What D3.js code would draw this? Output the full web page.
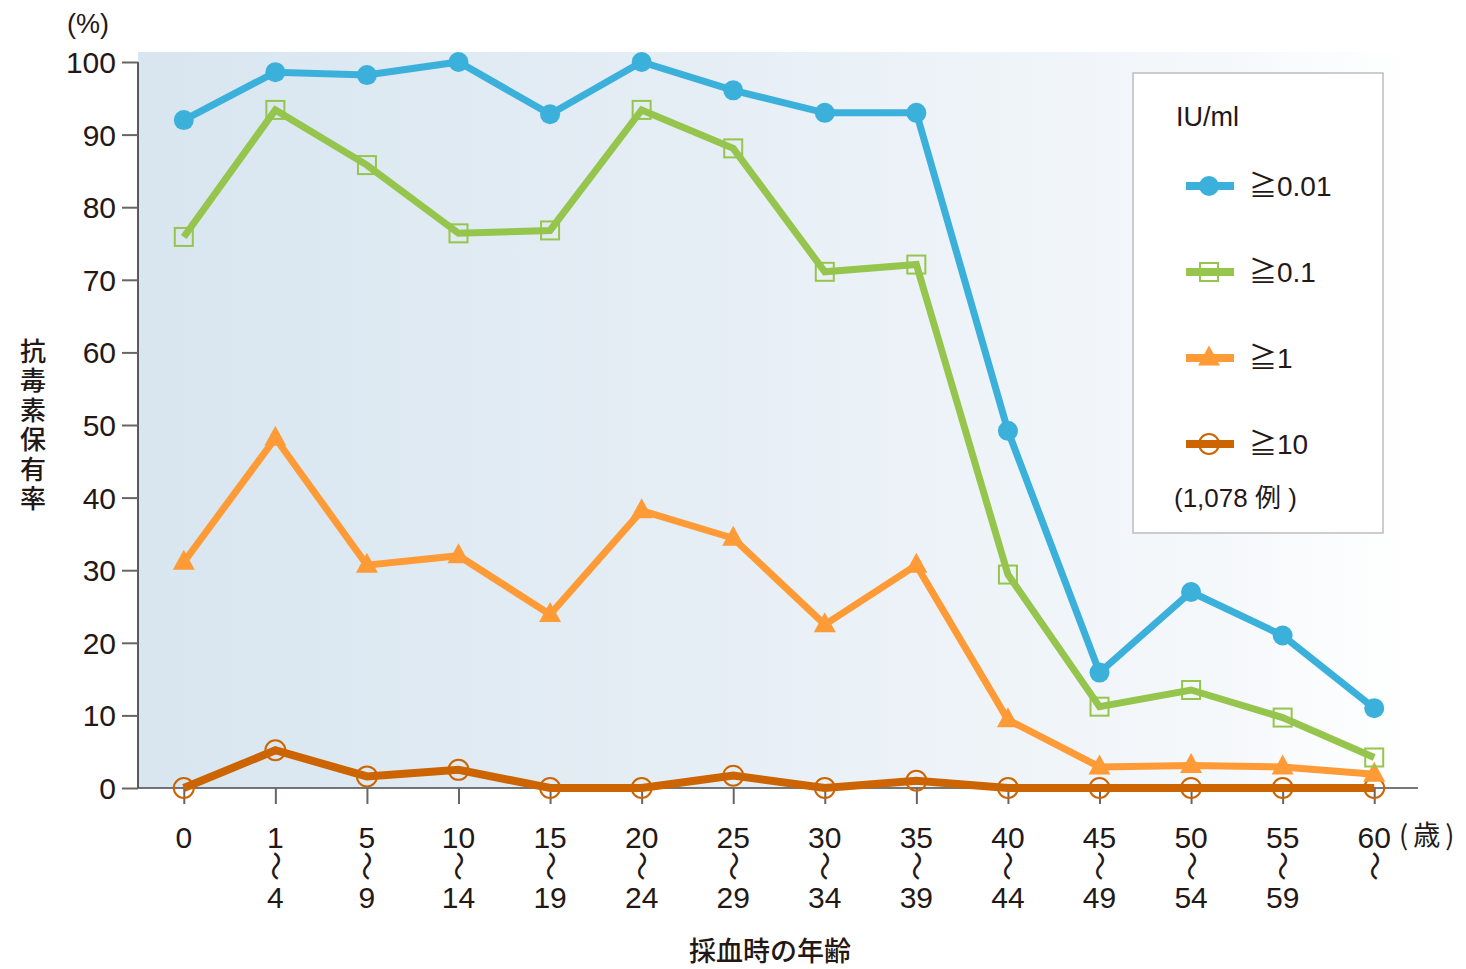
<!DOCTYPE html>
<html>
<head>
<meta charset="utf-8">
<script src="https://cdn.jsdelivr.net/npm/d3@7"></script>
<style>
  html, body { margin: 0; padding: 0; background: #fff; }
  svg text { font-family: "Liberation Sans", Arial, "Noto Sans CJK JP", sans-serif; fill: #231815; }
  .jp { font-family: "Noto Sans CJK JP", sans-serif; }
</style>
</head>
<body>
<svg id="chart" width="1466" height="969"></svg>
<script>
// Age groups at blood sampling (upper / lower bound of each band)
const ageFrom = ["0", "1", "5", "10", "15", "20", "25", "30", "35", "40", "45", "50", "55", "60"];
const ageTo   = ["",  "4", "9", "14", "19", "24", "29", "34", "39", "44", "49", "54", "59", ""];
const hasRange = [false, true, true, true, true, true, true, true, true, true, true, true, true, true];

// Antitoxin seroprevalence (%) by threshold, IU/ml
const ge001 = [92.0, 98.6, 98.2, 100, 92.8, 100, 96.1, 93.0, 93.0, 49.2, 15.9, 27.0, 21.0, 11.0];
const ge01  = [75.9, 93.4, 85.8, 76.4, 76.8, 93.4, 88.1, 71.1, 72.1, 29.4, 11.2, 13.5, 9.7, 4.2];
const ge1   = [31.1, 48.2, 30.7, 32.0, 23.9, 38.2, 34.4, 22.5, 30.7, 9.4, 2.9, 3.1, 2.9, 1.9];
const ge10  = [0, 5.2, 1.6, 2.5, 0, 0, 1.7, 0, 1.0, 0, 0, 0, 0, 0];

const seriesNames  = ["≧0.01", "≧0.1", "≧1", "≧10"];
const seriesColors = ["#3bb0db", "#95c54d", "#fe9b37", "#cc6501"];
const yTicks = [0, 10, 20, 30, 40, 50, 60, 70, 80, 90, 100];

const svg = d3.select("#chart");
const plotLeft = 138, plotRight = 1418, plotTop = 52, plotBottom = 788;

const x = d3.scalePoint().domain(d3.range(ageFrom.length)).range([plotLeft, 1420]).padding(0.5);
const y = d3.scaleLinear().domain([0, 100]).range([plotBottom, 62]);

// plot background: soft blue fading to white towards the right
const defs = svg.append("defs");
const grad = defs.append("linearGradient").attr("id", "bg").attr("x1", "0").attr("x2", "1").attr("y1", "0").attr("y2", "0");
grad.append("stop").attr("offset", "0").attr("stop-color", "#d8e6f0");
grad.append("stop").attr("offset", "0.45").attr("stop-color", "#e6eef5");
grad.append("stop").attr("offset", "0.85").attr("stop-color", "#f5f8fb");
grad.append("stop").attr("offset", "1").attr("stop-color", "#ffffff");
svg.append("rect").attr("x", plotLeft).attr("y", plotTop).attr("width", 1410 - plotLeft).attr("height", plotBottom - plotTop).attr("fill", "url(#bg)");

// y axis
const yAxis = svg.append("g").attr("transform", `translate(${plotLeft},0)`)
  .call(d3.axisLeft(y).tickValues(yTicks).tickSize(16).tickPadding(6));
yAxis.select(".domain").attr("stroke", "#3a3330").attr("stroke-width", 1.6).attr("d", `M0,${y(100)}V${plotBottom}`);
yAxis.selectAll(".tick line").attr("stroke", "#6a6462").attr("stroke-width", 2);
yAxis.selectAll(".tick text").attr("font-size", 30).attr("fill", "#231815")
  .attr("font-family", "'Liberation Sans', Arial, sans-serif").attr("dy", "0.35em").attr("x", -22);

// x axis
const xAxis = svg.append("g").attr("transform", `translate(0,${plotBottom})`)
  .call(d3.axisBottom(x).tickSize(16).tickFormat(""));
xAxis.select(".domain").attr("stroke", "#4a4a4a").attr("stroke-width", 1.6).attr("d", `M${plotLeft},0H${plotRight}`);
xAxis.selectAll(".tick line").attr("stroke", "#6a6462").attr("stroke-width", 2);

// x tick labels: "from", a vertical wave dash, "to"
const lab = svg.append("g");
ageFrom.forEach((a, i) => {
  const cx = x(i);
  lab.append("text").attr("x", cx).attr("y", 848).attr("text-anchor", "middle").attr("font-size", 30).text(a);
  if (hasRange[i]) {
    lab.append("text").attr("class", "jp").attr("font-size", 30).attr("text-anchor", "middle")
      .attr("transform", `translate(${cx},866) rotate(90)`).attr("dy", "0.35em").text("〜");
    if (ageTo[i]) {
      lab.append("text").attr("x", cx).attr("y", 908).attr("text-anchor", "middle").attr("font-size", 30).text(ageTo[i]);
    }
  }
});
lab.append("text").attr("class", "jp").attr("x", 1399).attr("y", 845).attr("font-size", 27)
  .style("letter-spacing", "5px").text("(歳)");

// axis titles
svg.append("text").attr("x", 88).attr("y", 33).attr("text-anchor", "middle").attr("font-size", 27).text("(%)");
svg.append("text").attr("class", "jp").attr("x", 33).attr("y", 338)
  .attr("font-size", 26).attr("font-weight", 500)
  .style("writing-mode", "vertical-rl").style("text-orientation", "upright").style("letter-spacing", "3.5px")
  .text("抗毒素保有率");
svg.append("text").attr("class", "jp").attr("x", 770).attr("y", 961).attr("text-anchor", "middle")
  .attr("font-size", 27).attr("font-weight", 500).text("採血時の年齢");

// series lines and markers
const allSeries = [ge001, ge01, ge1, ge10];
const line = d3.line().x((d, i) => x(i)).y(d => y(d));
const plot = svg.append("g");

// draw in back-to-front order: ≧10 first so upper series stay on top
const order = [3, 2, 1, 0];
order.forEach(s => {
  plot.append("path").datum(allSeries[s]).attr("d", line)
    .attr("fill", "none").attr("stroke", seriesColors[s]).attr("stroke-width", s === 3 ? 8 : 7)
    .attr("stroke-linejoin", "miter");
});

function marker(g, s, cx, cy) {
  const c = seriesColors[s];
  if (s === 0) {
    g.append("circle").attr("cx", cx).attr("cy", cy).attr("r", 10).attr("fill", c);
  } else if (s === 1) {
    g.append("rect").attr("x", cx - 9).attr("y", cy - 9).attr("width", 18).attr("height", 18)
      .attr("fill", "none").attr("stroke", c).attr("stroke-width", 2);
  } else if (s === 2) {
    const h = 20, w = 22;
    g.append("path").attr("d", `M${cx},${cy - h * 0.62}L${cx + w / 2},${cy + h * 0.38}L${cx - w / 2},${cy + h * 0.38}Z`)
      .attr("fill", c);
  } else {
    g.append("circle").attr("cx", cx).attr("cy", cy).attr("r", 10)
      .attr("fill", "none").attr("stroke", c).attr("stroke-width", 2);
  }
}

order.forEach(s => {
  allSeries[s].forEach((v, i) => marker(plot, s, x(i), y(v)));
});

// legend
const lg = svg.append("g");
lg.append("rect").attr("x", 1133).attr("y", 73).attr("width", 250).attr("height", 460)
  .attr("fill", "#ffffff").attr("stroke", "#bdbdbd").attr("stroke-width", 1.5);
lg.append("text").attr("x", 1176).attr("y", 126).attr("font-size", 27).text("IU/ml");
const legY = [186, 272, 358, 444];
seriesNames.forEach((n, s) => {
  const ly = legY[s];
  lg.append("line").attr("x1", 1186).attr("x2", 1234).attr("y1", ly).attr("y2", ly)
    .attr("stroke", seriesColors[s]).attr("stroke-width", 8);
  marker(lg, s, 1209, ly);
  lg.append("text").attr("x", 1249).attr("y", ly + 10).attr("font-size", 28)
    .attr("font-family", "'Liberation Sans', 'Noto Sans CJK JP', sans-serif").text(n);
});
lg.append("text").attr("x", 1174).attr("y", 507).attr("font-size", 26)
  .attr("font-family", "'Liberation Sans', 'Noto Sans CJK JP', sans-serif").text("(1,078 例 )");
</script>
</body>
</html>
